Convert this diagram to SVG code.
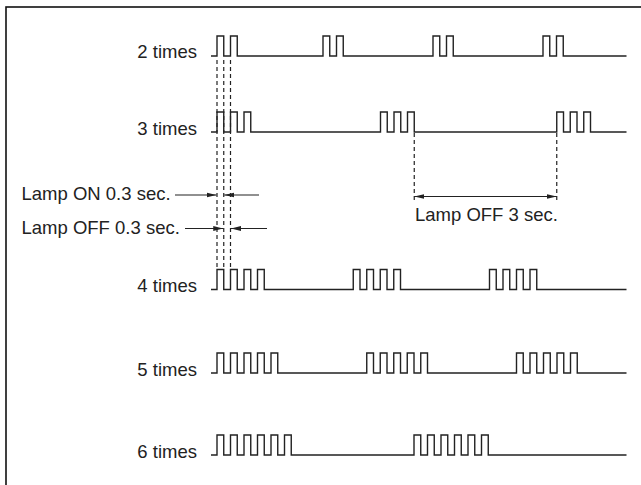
<svg xmlns="http://www.w3.org/2000/svg" width="641" height="485" viewBox="0 0 641 485">
<style>
  .sig { fill: none; stroke: #222; stroke-width: 1.4; stroke-linejoin: miter; }
  .lbl { font-family: "Liberation Sans", Arial, sans-serif; font-size: 18.5px; fill: #222; }
  .end { text-anchor: end; }
  .dash { fill: none; stroke: #222; stroke-width: 1.2; stroke-dasharray: 4 3; }
  .arr { fill: none; stroke: #222; stroke-width: 1.2; }
  .frame { fill: none; stroke: #111; stroke-width: 1.6; }
</style>
<defs>
  <marker id="ah" viewBox="0 0 10 6" refX="10" refY="3" markerWidth="10" markerHeight="6" markerUnits="userSpaceOnUse" orient="auto-start-reverse">
    <path d="M0,0.6 L10,3 L0,5.4 z" fill="#222"/>
  </marker>
</defs>
<rect class="frame" x="6" y="7" width="700" height="600"/>

<g id="sig2">
  <text class="lbl end" x="197" y="58">2 times</text>
  <path class="sig" d="M211,56 H217 V36 H223.75 V56 H230.5 V36 H237.25 V56 H323 V36 H329.75 V56 H336.5 V36 H343.25 V56 H433 V36 H439.75 V56 H446.5 V36 H453.25 V56 H543 V36 H549.75 V56 H556.5 V36 H563.25 V56 H626.5"/>
</g>
<g id="sig3">
  <text class="lbl end" x="197" y="134.5">3 times</text>
  <path class="sig" d="M211,132 H217 V112 H223.75 V132 H230.5 V112 H237.25 V132 H244 V112 H250.75 V132 H380.5 V112 H387.25 V132 H394 V112 H400.75 V132 H407.5 V112 H414.25 V132 H556.75 V112 H563.5 V132 H570.25 V112 H577 V132 H583.75 V112 H590.5 V132 H626.5"/>
</g>
<g id="sig4">
  <text class="lbl end" x="197" y="292">4 times</text>
  <path class="sig" d="M211,289.5 H217 V269.5 H223.75 V289.5 H230.5 V269.5 H237.25 V289.5 H244 V269.5 H250.75 V289.5 H257.5 V269.5 H264.25 V289.5 H353.25 V269.5 H360 V289.5 H366.75 V269.5 H373.5 V289.5 H380.25 V269.5 H387 V289.5 H393.75 V269.5 H400.5 V289.5 H489.5 V269.5 H496.25 V289.5 H503 V269.5 H509.75 V289.5 H516.5 V269.5 H523.25 V289.5 H530 V269.5 H536.75 V289.5 H626.5"/>
</g>
<g id="sig5">
  <text class="lbl end" x="197" y="375.5">5 times</text>
  <path class="sig" d="M211,373 H217 V353 H223.75 V373 H230.5 V353 H237.25 V373 H244 V353 H250.75 V373 H257.5 V353 H264.25 V373 H271 V353 H277.75 V373 H366.75 V353 H373.5 V373 H380.25 V353 H387 V373 H393.75 V353 H400.5 V373 H407.25 V353 H414 V373 H420.75 V353 H427.5 V373 H516.5 V353 H523.25 V373 H530 V353 H536.75 V373 H543.5 V353 H550.25 V373 H557 V353 H563.75 V373 H570.5 V353 H577.25 V373 H626.5"/>
</g>
<g id="sig6">
  <text class="lbl end" x="197" y="458">6 times</text>
  <path class="sig" d="M211,455 H217 V435 H223.75 V455 H230.5 V435 H237.25 V455 H244 V435 H250.75 V455 H257.5 V435 H264.25 V455 H271 V435 H277.75 V455 H284.5 V435 H291.25 V455 H414 V435 H420.75 V455 H427.5 V435 H434.25 V455 H441 V435 H447.75 V455 H454.5 V435 H461.25 V455 H468 V435 H474.75 V455 H481.5 V435 H488.25 V455 H626.5"/>
</g>

<g id="labels">
  <text class="lbl" x="21.5" y="200">Lamp ON 0.3 sec.</text>
  <text class="lbl" x="21.5" y="233.5">Lamp OFF 0.3 sec.</text>
  <text class="lbl" x="415" y="221">Lamp OFF 3 sec.</text>
</g>

<g id="connectors">
  <line class="dash" x1="217" y1="60" x2="217" y2="269.5"/>
  <line class="dash" x1="223.75" y1="60" x2="223.75" y2="269.5"/>
  <line class="dash" x1="230.5" y1="60" x2="230.5" y2="269.5"/>
  <line class="arr" x1="175" y1="195" x2="216.5" y2="195" marker-end="url(#ah)"/>
  <line class="arr" x1="259" y1="195" x2="224.25" y2="195" marker-end="url(#ah)"/>
  <line class="arr" x1="185" y1="228.5" x2="223.25" y2="228.5" marker-end="url(#ah)"/>
  <line class="arr" x1="267" y1="228.5" x2="231" y2="228.5" marker-end="url(#ah)"/>
  <line class="dash" x1="414.25" y1="133" x2="414.25" y2="200"/>
  <line class="dash" x1="556.75" y1="133" x2="556.75" y2="200"/>
  <line class="arr" x1="414.25" y1="196.5" x2="556.75" y2="196.5" marker-start="url(#ah)" marker-end="url(#ah)"/>
</g>
</svg>
